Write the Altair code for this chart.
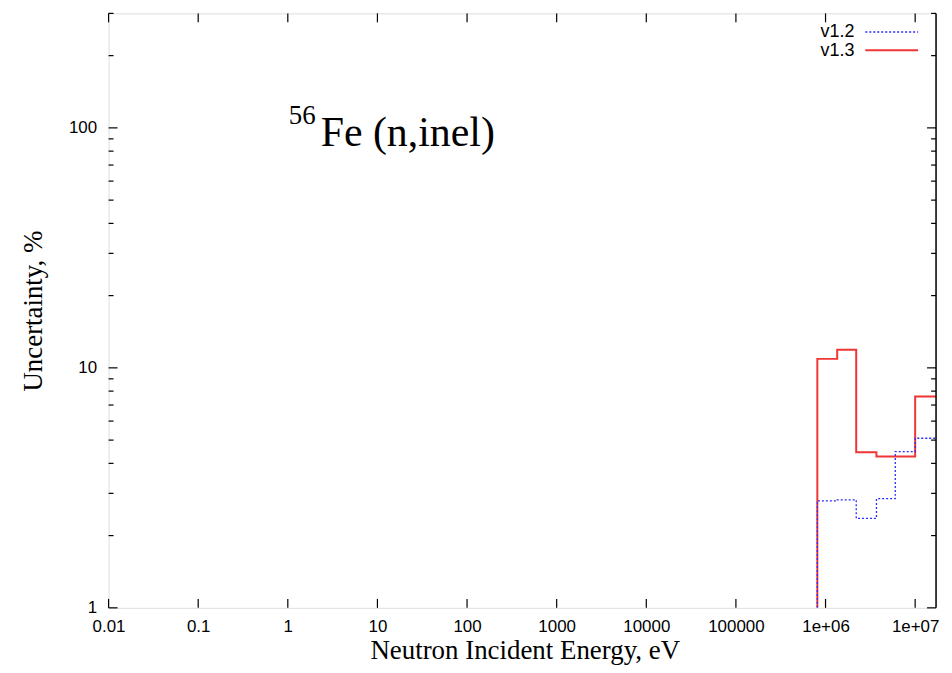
import altair as alt
import pandas as pd

# ---- data ----
bin_edges = [8.1e5, 1.35e6, 2.2e6, 3.7e6, 6.0e6, 1.0e7, 2.0e7]
v12_values = [2.79, 2.82, 2.36, 2.85, 4.48, 5.09]
v13_values = [10.9, 11.9, 4.45, 4.27, 4.27, 7.6]

x_tick_values = [0.01, 0.1, 1, 10, 100, 1000, 10000, 100000, 1e6, 1e7]
x_tick_labels = ["0.01", "0.1", "1", "10", "100", "1000", "10000", "100000", "1e+06", "1e+07"]
y_major_ticks = [1, 10, 100]
y_minor_ticks = [2, 3, 4, 5, 6, 7, 8, 9, 20, 30, 40, 50, 60, 70, 80, 90, 200, 300]

W, H = 831, 597
X_DOMAIN = [0.01, 1.71e7]
Y_DOMAIN = [1, 300]


def steps(values, bottom=1):
    pts = [(bin_edges[0], bottom)]
    for e, v in zip(bin_edges[:-1], values):
        pts.append((e, v))
    pts.append((bin_edges[-1], values[-1]))
    return pd.DataFrame({"x": [p[0] for p in pts], "y": [p[1] for p in pts],
                         "i": list(range(len(pts)))})


df12 = steps(v12_values)
df13 = steps(v13_values)

# label expression built from tick lists
expr = "''"
for v, lab in zip(reversed(x_tick_values), reversed(x_tick_labels)):
    expr = f"(abs(datum.value - {v!r}) < {v!r}*1e-6) ? '{lab}' : ({expr})"

x_axis = alt.Axis(values=x_tick_values, labelExpr=expr, tickSize=0, domain=False, grid=False,
                  labelFont="Liberation Sans", labelFontSize=17, labelColor="black",
                  labelPadding=11, labelFlush=False, labelOverlap=False,
                  title="Neutron Incident Energy, eV", titleFont="Liberation Serif",
                  titleFontSize=27, titleFontWeight="normal", titleColor="black",
                  titleX=418, titleY=51, titleAlign="center", titleBaseline="alphabetic")
y_axis = alt.Axis(values=y_major_ticks, format="d", tickSize=0, domain=False, grid=False,
                  labelFont="Liberation Sans", labelFontSize=17, labelColor="black",
                  labelPadding=12, labelFlush=False, labelOverlap=False,
                  title="Uncertainty, %", titleFont="Liberation Serif", titleFontSize=27,
                  titleFontWeight="normal", titleColor="black",
                  titleX=-75, titleY=H / 2, titleAngle=-90, titleAlign="center",
                  titleBaseline="middle")

xs = alt.Scale(type="log", domain=X_DOMAIN, nice=False)
ys = alt.Scale(type="log", domain=Y_DOMAIN, nice=False)


def X(field="x"):
    return alt.X(f"{field}:Q", scale=xs, axis=x_axis)


def Y(field="y"):
    return alt.Y(f"{field}:Q", scale=ys, axis=y_axis)


RED = "#f03535"
BLUE = "#2a2aff"

line13 = alt.Chart(df13).mark_line(interpolate="step-after", color=RED,
                                   strokeWidth=2, clip=True).encode(
    x=X(), y=Y(), order="i:Q")
line12 = alt.Chart(df12).mark_line(interpolate="step-after", color=BLUE,
                                   strokeWidth=1.3, strokeDash=[2, 2], clip=True).encode(
    x=X(), y=Y(), order="i:Q")

xt = pd.DataFrame({"x": x_tick_values})
ymaj = pd.DataFrame({"y": y_major_ticks})
ymin = pd.DataFrame({"y": y_minor_ticks})
tick_style = dict(color="black", strokeWidth=1.2)

xt_bottom = alt.Chart(xt).mark_rule(**tick_style).encode(x=X(), y=alt.value(H), y2=alt.value(H - 9))
xt_top = alt.Chart(xt).mark_rule(**tick_style).encode(x=X(), y=alt.value(0), y2=alt.value(9))
yM_left = alt.Chart(ymaj).mark_rule(**tick_style).encode(y=Y(), x=alt.value(0), x2=alt.value(9))
yM_right = alt.Chart(ymaj).mark_rule(**tick_style).encode(y=Y(), x=alt.value(W), x2=alt.value(W - 9))
ym_left = alt.Chart(ymin).mark_rule(**tick_style).encode(y=Y(), x=alt.value(0), x2=alt.value(5))
ym_right = alt.Chart(ymin).mark_rule(**tick_style).encode(y=Y(), x=alt.value(W), x2=alt.value(W - 5))

one = pd.DataFrame({"a": [0]})
# explicit right border of the frame
frame_right = alt.Chart(one).mark_rule(color="black", strokeWidth=1.5).encode(
    x=alt.value(W), y=alt.value(0), y2=alt.value(H))

# legend (manual, gnuplot style: label left of sample)
leg_t12 = alt.Chart(one).mark_text(text="v1.2", align="right", baseline="alphabetic",
                                   font="Liberation Sans", fontSize=18, color="black").encode(
    x=alt.value(749), y=alt.value(24))
leg_t13 = alt.Chart(one).mark_text(text="v1.3", align="right", baseline="alphabetic",
                                   font="Liberation Sans", fontSize=18, color="black").encode(
    x=alt.value(749), y=alt.value(43))
leg_l12 = alt.Chart(one).mark_rule(color=BLUE, strokeWidth=1.3, strokeDash=[2, 2]).encode(
    x=alt.value(760), x2=alt.value(813), y=alt.value(18.7))
leg_l13 = alt.Chart(one).mark_rule(color=RED, strokeWidth=2).encode(
    x=alt.value(760), x2=alt.value(813), y=alt.value(37))

# in-plot title with superscript
t_sup = alt.Chart(one).mark_text(text="56", align="left", baseline="alphabetic",
                                 font="Liberation Serif", fontSize=27, color="black").encode(
    x=alt.value(181), y=alt.value(111))
t_main = alt.Chart(one).mark_text(text="Fe (n,inel)", align="left", baseline="alphabetic",
                                  font="Liberation Serif", fontSize=42, color="black").encode(
    x=alt.value(213), y=alt.value(133))

chart = alt.layer(
    line13, line12, xt_bottom, xt_top, yM_left, yM_right, ym_left, ym_right, frame_right,
    leg_t12, leg_t13, leg_l12, leg_l13, t_sup, t_main
).properties(
    width=W, height=H,
    autosize=alt.AutoSizeParams(type="none"),
    padding={"left": 101, "top": 4, "right": 8, "bottom": 56},
).configure_view(stroke="black", strokeWidth=1.5).configure(background="white")

chart.save("out.html", embed_options={"renderer": "svg", "actions": False})
